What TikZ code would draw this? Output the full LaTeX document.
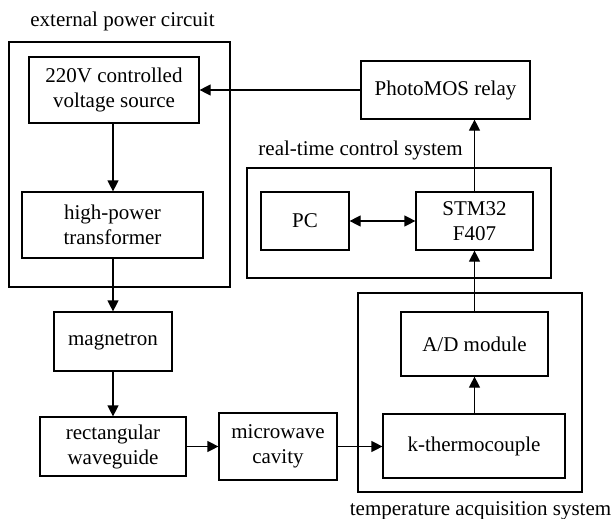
\documentclass[tikz,border=0pt]{standalone}
\usepackage{fontspec}
\setmainfont{Liberation Serif}
\usetikzlibrary{arrows.meta}
\begin{document}
\begin{tikzpicture}[x=1pt,y=-1pt,
  every node/.style={font=\fontsize{21}{25}\selectfont},
  box/.style={draw,line width=1.2pt,inner sep=0pt,align=center},
  frame/.style={draw,line width=1.2pt,inner sep=0pt},
  arr/.style={line width=1.2pt,-{Triangle[length=11pt,width=11pt]}},
  darr/.style={line width=1.2pt,{Triangle[length=11pt,width=11pt]}-{Triangle[length=11pt,width=11pt]}}]
\useasboundingbox (0,0) rectangle (613,519);
% frames
\node[frame,minimum width=221pt,minimum height=245pt] (ext) at (119.5,164.5) {};
\node[frame,minimum width=304pt,minimum height=110pt] (rt) at (399,223) {};
\node[frame,minimum width=224pt,minimum height=199pt] (tas) at (470,392.5) {};
\node[anchor=base] (lext) at (122.5,27) {external power circuit};
\node[anchor=base] (lrt) at (360.5,155) {real-time control system};
\node[anchor=base] (ltas) at (480.5,515) {temperature acquisition system};
% boxes
\node[box,minimum width=170pt,minimum height=66pt] (src) at (114,90) {220V controlled\\voltage source};
\node[box,minimum width=181pt,minimum height=66pt] (trans) at (112.5,225) {high-power\\transformer};
\node[box,minimum width=118pt,minimum height=59pt] (mag) at (113,341.5) {magnetron};
\node[box,minimum width=146pt,minimum height=59pt] (wg) at (113,446.5) {rectangular\\waveguide};
\node[box,minimum width=118pt,minimum height=67pt] (cav) at (278,446.5) {microwave\\cavity};
\node[box,minimum width=147pt,minimum height=64pt] (ad) at (474.5,344) {A/D module};
\node[box,minimum width=182pt,minimum height=64pt] (kt) at (474,446) {k-thermocouple};
\node[box,minimum width=88pt,minimum height=58pt] (pc) at (305,221) {PC};
\node[box,minimum width=117pt,minimum height=58pt] (stm) at (474.5,221) {STM32\\F407};
\node[box,minimum width=169pt,minimum height=58pt] (photo) at (445.5,90) {PhotoMOS relay};
% connectors
\draw[arr] (src.south -| mag.north) -- (trans.north -| mag.north);
\draw[arr] (trans.south -| mag.north) -- (mag.north);
\draw[arr] (mag.south) -- (wg.north);
\draw[arr] (wg.east) -- (cav.west |- wg.east);
\draw[arr] (cav.east) -- (kt.west |- cav.east);
\draw[arr] (kt.north -| ad.south) -- (ad.south);
\draw[arr] (ad.north) -- (stm.south);
\draw[darr] (pc.east) -- (stm.west);
\draw[arr] (stm.north) -- (stm.north |- photo.south);
\draw[arr] (photo.west) -- (src.east |- photo.west);
\end{tikzpicture}
\end{document}
